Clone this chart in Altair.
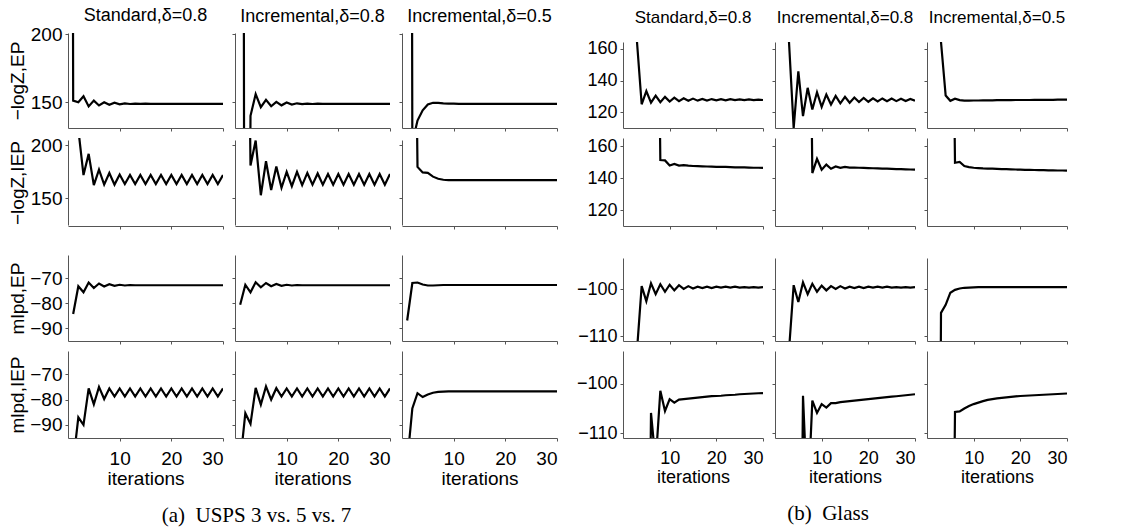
import altair as alt
import pandas as pd

FONT = "Liberation Sans"
SERIF = "Liberation Serif"
USPS_FS = 19
GLASS_FS = 18

X_DOMAIN = [0, 30]
X_TICKS = [10, 20, 30]

COL_TITLES = ["Standard,δ=0.8", "Incremental,δ=0.8", "Incremental,δ=0.5"]
ROW_TITLES = ["−logZ,EP", "−logZ,IEP", "mlpd,EP", "mlpd,IEP"]
CAPTIONS = ["(a)\u00a0\u00a0USPS 3 vs. 5 vs. 7", "(b)\u00a0\u00a0Glass"]

USPS_Y_DOMAINS = [[131, 201], [125, 205], [-95.2, -60.8], [-95.2, -60.8]]
USPS_Y_TICKS = [[150, 200], [150, 200], [-90, -80, -70], [-90, -80, -70]]
GLASS_Y_DOMAINS = [[110, 164.4], [110, 165], [-111, -93.3], [-111, -93.3]]
GLASS_Y_TICKS = [[120, 140, 160], [120, 140, 160], [-110, -100], [-110, -100]]

# ---- USPS 3 vs 5 vs 7 : (start iteration, values) ----
USPS_LZEP_STD_START = 0
USPS_LZEP_STD = [2000, 151.2, 150.0, 154.4, 146.9, 151.2, 147.6, 150.0, 148.1, 149.6,
                 148.5, 149.2, 148.7, 149.0, 148.8, 148.9, 148.8, 148.8, 148.8, 148.8,
                 148.8, 148.8, 148.8, 148.8, 148.8, 148.8, 148.8, 148.8, 148.8, 148.8, 148.8]
USPS_LZEP_INC8_START = 1
USPS_LZEP_INC8 = [2000, -500, 140.0, 156.0, 146.3, 151.7, 147.0, 150.3, 147.7, 149.8,
                  148.3, 149.2, 148.6, 149.0, 148.7, 148.9, 148.8, 148.8, 148.8, 148.8,
                  148.8, 148.8, 148.8, 148.8, 148.8, 148.8, 148.8, 148.8, 148.8, 148.8]
USPS_LZEP_INC5_START = 1
USPS_LZEP_INC5 = [2000, 120, 136.5, 144.0, 148.3, 149.6, 149.5, 149.2, 149.0, 148.9,
                  148.8, 148.8, 148.8, 148.8, 148.8, 148.8, 148.8, 148.8, 148.8, 148.8,
                  148.8, 148.8, 148.8, 148.8, 148.8, 148.8, 148.8, 148.8, 148.8, 148.8]

USPS_LZIEP_STD_START = 2
USPS_LZIEP_STD = [215, 172, 192, 162.5, 177, 163, 174, 163, 172.5, 163.5,
                  172, 163.5, 172, 163.5, 172, 163.5, 172, 163.5, 172, 163.5,
                  172, 163.5, 172, 163.5, 172, 163.5, 172, 163.5, 172]
USPS_LZIEP_INC8_START = 2
USPS_LZIEP_INC8 = [600, 181, 204.5, 153, 185, 158, 180, 160, 175, 161.5,
                   175, 162.5, 174, 163, 173.5, 163, 173, 163, 173, 163,
                   173, 163, 173, 163, 173, 163, 173, 163, 173]
USPS_LZIEP_INC5_START = 2
USPS_LZIEP_INC5 = [600, 179.7, 174.5, 174.0, 170.5, 168.5, 167.6, 167.3, 167.2, 167.2,
                   167.2, 167.2, 167.2, 167.2, 167.2, 167.2, 167.2, 167.2, 167.2, 167.2,
                   167.2, 167.2, 167.2, 167.2, 167.2, 167.2, 167.2, 167.2, 167.2]

USPS_MEP_STD_START = 1
USPS_MEP_STD = [-84.4, -73.3, -75.7, -71.8, -74.0, -72.2, -73.4, -72.5, -73.1, -72.7,
                -73.0, -72.8, -72.9, -72.9, -72.9, -72.9, -72.9, -72.9, -72.9, -72.9,
                -72.9, -72.9, -72.9, -72.9, -72.9, -72.9, -72.9, -72.9, -72.9, -72.9]
USPS_MEP_INC8_START = 1
USPS_MEP_INC8 = [-80.7, -72.7, -75.7, -71.7, -73.7, -72.0, -73.3, -72.4, -73.1, -72.7,
                 -73.0, -72.8, -72.9, -72.9, -72.9, -72.9, -72.9, -72.9, -72.9, -72.9,
                 -72.9, -72.9, -72.9, -72.9, -72.9, -72.9, -72.9, -72.9, -72.9, -72.9]
USPS_MEP_INC5_START = 1
USPS_MEP_INC5 = [-87.0, -72.0, -71.8, -72.6, -73.0, -73.0, -72.9, -72.8, -72.8, -72.8,
                 -72.8, -72.8, -72.8, -72.8, -72.8, -72.8, -72.8, -72.8, -72.8, -72.8,
                 -72.8, -72.8, -72.8, -72.8, -72.8, -72.8, -72.8, -72.8, -72.8, -72.8]

USPS_MIEP_STD_START = 1
USPS_MIEP_STD = [-105, -87.0, -90.0, -75.6, -81.9, -75.0, -79.8, -75.6, -78.8, -75.6,
                 -78.8, -75.6, -78.8, -75.6, -78.8, -75.6, -78.8, -75.6, -78.8, -75.6,
                 -78.8, -75.6, -78.8, -75.6, -78.8, -75.6, -78.8, -75.6, -78.8, -75.6]
USPS_MIEP_INC8_START = 1
USPS_MIEP_INC8 = [-105, -85.4, -89.6, -75.4, -82.0, -74.8, -80.0, -75.5, -78.8, -75.6,
                  -78.8, -75.6, -78.8, -75.6, -78.8, -75.6, -78.8, -75.6, -78.8, -75.6,
                  -78.8, -75.6, -78.8, -75.6, -78.8, -75.6, -78.8, -75.6, -78.8, -75.6]
USPS_MIEP_INC5_START = 1
USPS_MIEP_INC5 = [-105, -83.5, -77.5, -79.0, -78.0, -77.3, -77.0, -76.9, -76.8, -76.8,
                  -76.8, -76.8, -76.8, -76.8, -76.8, -76.8, -76.8, -76.8, -76.8, -76.8,
                  -76.8, -76.8, -76.8, -76.8, -76.8, -76.8, -76.8, -76.8, -76.8, -76.8]

# ---- Glass ----
GLASS_LZEP_STD_START = 3
GLASS_LZEP_STD = [400, 125.0, 133.3, 126.0, 130.5, 126.3, 129.7, 126.7, 129.2, 127.0,
                  128.8, 127.2, 128.6, 127.3, 128.4, 127.4, 128.3, 127.5, 128.2, 127.5,
                  128.2, 127.6, 128.1, 127.6, 128.1, 127.7, 128.0, 127.7]
GLASS_LZEP_INC8_START = 3
GLASS_LZEP_INC8 = [400, 100, 145.9, 117.5, 135.4, 121.7, 132.6, 123.4, 131.2, 124.9,
                   130.3, 125.6, 129.7, 126.0, 129.3, 126.4, 129.0, 126.6, 128.8, 126.8,
                   128.7, 126.9, 128.6, 127.0, 128.5, 127.1, 128.4, 127.2]
GLASS_LZEP_INC5_START = 3
GLASS_LZEP_INC5 = [400, 130.5, 127.2, 128.5, 127.6, 127.3, 127.3, 127.4, 127.4, 127.5,
                   127.5, 127.5, 127.6, 127.6, 127.6, 127.6, 127.7, 127.7, 127.7, 127.7,
                   127.8, 127.8, 127.8, 127.8, 127.8, 127.9, 127.9, 127.9]

GLASS_LZIEP_STD_START = 7
GLASS_LZIEP_STD = [400, 151.2, 151.0, 147.8, 148.8, 147.8, 148.0, 147.7,
                   147.5, 147.4, 147.3, 147.2, 147.1, 147.0, 146.9, 146.9,
                   146.8, 146.7, 146.6, 146.6, 146.5, 146.4, 146.4, 146.3]
GLASS_LZIEP_INC8_START = 7
GLASS_LZIEP_INC8 = [400, 143.1, 152.0, 145.2, 148.4, 145.8, 147.2, 146.3, 146.9, 146.5,
                    146.5, 146.4, 146.3, 146.2, 146.1, 146.0, 145.9, 145.8, 145.7, 145.6,
                    145.5, 145.4, 145.3, 145.2]
GLASS_LZIEP_INC5_START = 5
GLASS_LZIEP_INC5 = [400, 149.5, 150.0, 147.5, 146.8, 146.4, 146.2, 146.0, 145.9, 145.8,
                    145.7, 145.6, 145.5, 145.4, 145.3, 145.2, 145.1, 145.1, 145.0, 144.9,
                    144.9, 144.8, 144.8, 144.7, 144.7, 144.6]

GLASS_MEP_STD_START = 3
GLASS_MEP_STD = [-113, -99.3, -102.5, -98.7, -101.0, -98.9, -100.5, -99.0, -100.2, -99.1,
                 -99.9, -99.3, -99.8, -99.4, -99.7, -99.4, -99.7, -99.4, -99.6, -99.4,
                 -99.6, -99.4, -99.6, -99.5, -99.6, -99.5, -99.6, -99.5]
GLASS_MEP_INC8_START = 3
GLASS_MEP_INC8 = [-113, -99.1, -102.7, -98.5, -101.0, -98.8, -100.5, -99.2, -100.2, -99.3,
                  -99.9, -99.3, -99.8, -99.4, -99.7, -99.4, -99.7, -99.4, -99.6, -99.4,
                  -99.6, -99.4, -99.6, -99.5, -99.6, -99.5, -99.6, -99.5]
GLASS_MEP_INC5_START = 2
GLASS_MEP_INC5 = [-300, -105.0, -103.3, -100.7, -100.1, -99.8, -99.65, -99.6, -99.55, -99.5,
                  -99.5, -99.5, -99.5, -99.5, -99.5, -99.5, -99.5, -99.5, -99.5, -99.5,
                  -99.5, -99.5, -99.5, -99.5, -99.5, -99.5, -99.5, -99.5, -99.5]

GLASS_MIEP_STD_START = 5
GLASS_MIEP_STD = [-200, -105.9, -116, -101.4, -105.5, -103.1, -103.8, -103.2, -103.1,
                  -103.0, -102.9, -102.8, -102.7, -102.6, -102.5, -102.45, -102.4, -102.3,
                  -102.25, -102.2, -102.1, -102.05, -102.0, -101.95, -101.9, -101.85]
GLASS_MIEP_INC8_START = 5
GLASS_MIEP_INC8 = [-200, -102.4, -125, -103.4, -105.9, -104.1, -104.8, -103.9, -103.9,
                   -103.7, -103.6, -103.5, -103.4, -103.3, -103.2, -103.1, -103.0, -102.9,
                   -102.8, -102.7, -102.6, -102.5, -102.4, -102.3, -102.2, -102.1]
GLASS_MIEP_INC5_START = 5
GLASS_MIEP_INC5 = [-200, -105.7, -105.6, -105.0, -104.5, -104.1, -103.8, -103.5, -103.25, -103.1,
                   -102.95, -102.85, -102.75, -102.65, -102.55, -102.45, -102.4, -102.35, -102.3,
                   -102.25, -102.2, -102.15, -102.1, -102.05, -102.0, -101.95]

USPS_SERIES = [
    [(USPS_LZEP_STD_START, USPS_LZEP_STD), (USPS_LZEP_INC8_START, USPS_LZEP_INC8), (USPS_LZEP_INC5_START, USPS_LZEP_INC5)],
    [(USPS_LZIEP_STD_START, USPS_LZIEP_STD), (USPS_LZIEP_INC8_START, USPS_LZIEP_INC8), (USPS_LZIEP_INC5_START, USPS_LZIEP_INC5)],
    [(USPS_MEP_STD_START, USPS_MEP_STD), (USPS_MEP_INC8_START, USPS_MEP_INC8), (USPS_MEP_INC5_START, USPS_MEP_INC5)],
    [(USPS_MIEP_STD_START, USPS_MIEP_STD), (USPS_MIEP_INC8_START, USPS_MIEP_INC8), (USPS_MIEP_INC5_START, USPS_MIEP_INC5)],
]
GLASS_SERIES = [
    [(GLASS_LZEP_STD_START, GLASS_LZEP_STD), (GLASS_LZEP_INC8_START, GLASS_LZEP_INC8), (GLASS_LZEP_INC5_START, GLASS_LZEP_INC5)],
    [(GLASS_LZIEP_STD_START, GLASS_LZIEP_STD), (GLASS_LZIEP_INC8_START, GLASS_LZIEP_INC8), (GLASS_LZIEP_INC5_START, GLASS_LZIEP_INC5)],
    [(GLASS_MEP_STD_START, GLASS_MEP_STD), (GLASS_MEP_INC8_START, GLASS_MEP_INC8), (GLASS_MEP_INC5_START, GLASS_MEP_INC5)],
    [(GLASS_MIEP_STD_START, GLASS_MIEP_STD), (GLASS_MIEP_INC8_START, GLASS_MIEP_INC8), (GLASS_MIEP_INC5_START, GLASS_MIEP_INC5)],
]

# layout (pixels)
USPS_W = 155
GLASS_W = 140
GAP_W = 42
ROW_H = [95, 88, 86, 87]
GAP_ROW_H = 9
USPS_RANGE = [[95, 0], [87, 2], [86, 0], [87, 0]]
GLASS_RANGE = [[95, 9], [88, 0], [86, 3], [87, 0]]


def axis_style(fs):
    return dict(domainColor="#555555", domainWidth=1, tickColor="#555555", tickSize=3,
                labelFont=FONT, labelFontSize=fs, labelColor="black", grid=False,
                titleFont=FONT, titleFontSize=fs, titleFontWeight="normal", titleColor="black")


def panel(series, ydom, yrange, yticks, w, h, fs, bottom, left_labels,
          ytitle=None, title=None, title_dy=0, caption=None, caption_dx=0, clamp=False):
    start, vals = series
    df = pd.DataFrame({"it": list(range(start, start + len(vals))), "v": vals})
    xax = dict(axis_style(fs), values=X_TICKS, labels=bottom, labelPadding=8)
    if bottom:
        xax["title"] = "iterations"
        xax["titlePadding"] = 1
    else:
        xax["title"] = None
    yax = dict(axis_style(fs), values=yticks, labels=left_labels, labelPadding=3)
    if ytitle:
        yax["title"] = ytitle
        yax["titleX"] = -45
        yax["titleY"] = (yrange[0] + yrange[1]) / 2
        yax["titleAngle"] = 270
        yax["titleBaseline"] = "alphabetic"
        yax["titleAlign"] = "center"
    else:
        yax["title"] = None
    yscale = dict(domain=ydom, range=yrange, nice=False, zero=False)
    if clamp:
        yscale["clamp"] = True
    ch = alt.Chart(df).mark_line(color="black", strokeWidth=2.2, clip=True).encode(
        x=alt.X("it:Q", scale=alt.Scale(domain=X_DOMAIN, nice=False, zero=False), axis=alt.Axis(**xax)),
        y=alt.Y("v:Q", scale=alt.Scale(**yscale), axis=alt.Axis(**yax)),
    )
    props = dict(width=w, height=h)
    if title:
        props["title"] = alt.TitleParams(title, font=FONT, fontSize=fs - 1, fontWeight="normal",
                                         color="black", anchor="middle", frame="group",
                                         baseline="bottom", offset=11, dy=title_dy)
    if caption:
        props["title"] = alt.TitleParams(caption, orient="bottom", font=SERIF, fontSize=21,
                                         fontWeight="normal", color="black", anchor="middle",
                                         frame="group", baseline="top", offset=17, dx=caption_dx)
    return ch.properties(**props)


def blank(w, h):
    return alt.Chart(pd.DataFrame({"a": [0]})).mark_point(opacity=0).encode(
        x=alt.value(0), y=alt.value(0)).properties(width=w, height=h)


cells = []
for r in range(4):
    if r == 2:
        cells += [blank(USPS_W, GAP_ROW_H)] * 3 + [blank(GAP_W, GAP_ROW_H)] + [blank(GLASS_W, GAP_ROW_H)] * 3
    for c in range(3):
        cells.append(panel(USPS_SERIES[r][c], USPS_Y_DOMAINS[r], USPS_RANGE[r], USPS_Y_TICKS[r],
                           USPS_W, ROW_H[r], USPS_FS, bottom=(r == 3), left_labels=(c == 0),
                           ytitle=(ROW_TITLES[r] if c == 0 else None),
                           title=(COL_TITLES[c] if r == 0 else None),
                           title_dy=(29 if c == 0 else 22),
                           caption=(CAPTIONS[0] if (r == 3 and c == 1) else None), caption_dx=-56))
    cells.append(blank(GAP_W, ROW_H[r]))
    for c in range(3):
        cells.append(panel(GLASS_SERIES[r][c], GLASS_Y_DOMAINS[r], GLASS_RANGE[r], GLASS_Y_TICKS[r],
                           GLASS_W, ROW_H[r], GLASS_FS, bottom=(r == 3), left_labels=(c == 0),
                           title=(COL_TITLES[c] if r == 0 else None),
                           title_dy=22,
                           caption=(CAPTIONS[1] if (r == 3 and c == 1) else None), caption_dx=-17,
                           clamp=(r == 0)))

chart = alt.concat(*cells, columns=7, spacing={"row": 10, "column": 12},
                   align="each", bounds="flush").properties(
    padding={"left": 8, "top": 7, "right": 5, "bottom": 5}, background="white"
).configure_view(strokeWidth=0)

chart.save("out.html", embed_options={"renderer": "svg", "actions": False})
